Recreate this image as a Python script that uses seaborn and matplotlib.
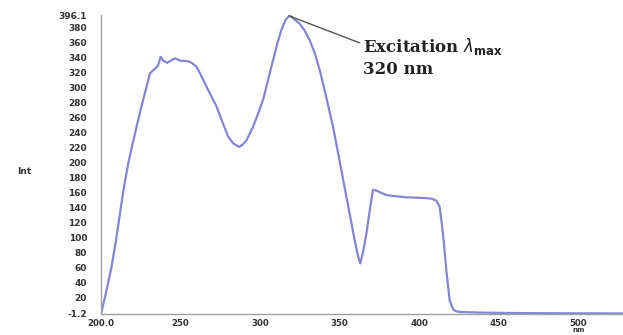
import pandas as pd
import matplotlib
matplotlib.use("Agg")
import matplotlib.pyplot as plt
import seaborn as sns

# excitation spectrum
wavelength = [200, 203, 206.7, 209.5, 212, 214.5, 217.2, 220, 222.4, 225, 227.6, 229.5,
              230.8, 232.8, 235, 236, 237.5, 239.1, 241.6, 244, 246.5, 249.6, 254.8,
              257, 260, 263, 266.4, 269.5, 272.6, 276, 279.9, 283, 286.8, 289, 291.5,
              295.6, 298.7, 301.9, 305, 308.2, 311, 313.4, 316, 318.2, 320, 322, 324.9,
              328, 331.2, 334.5, 337.5, 341.5, 345.8, 350, 354.2, 357, 359.4, 361.5,
              362.9, 364.8, 366.8, 369, 370.9, 373, 376, 379.3, 385, 391.9, 398, 404.4,
              408, 410.7, 412.8, 414.9, 417, 419.1, 421.2, 423, 425, 430, 440, 455, 470,
              490, 510, 528]
intensity = [-1.2, 25, 61.7, 97, 133, 168, 199.4, 226, 248, 271, 292.5, 308,
             319, 323, 327, 330, 341, 336, 333, 336, 339, 336, 335,
             333, 328, 316, 301, 288, 275, 256, 235, 226, 221, 224, 230,
             248, 265, 284, 310, 337, 360, 377, 390, 395.5, 394, 390, 385,
             376, 363, 345, 323, 288, 248, 202, 155, 124, 97, 76,
             66, 82, 106, 138, 164, 163, 160, 157, 155.5, 154, 153.5, 153,
             152, 149.6, 141.6, 106, 57, 17, 5, 2.5, 1.5, 1, 0.5, 0, -0.2,
             -0.4, -0.5, -0.6]

x_ticks = [200, 250, 300, 350, 400, 450, 500]
x_labels = ["200.0", "250", "300", "350", "400", "450", "500"]
y_ticks = [-1.2] + list(range(20, 400, 20)) + [396.1]
y_labels = ["-1.2"] + [str(v) for v in range(20, 400, 20)] + ["396.1"]

peak_x, peak_y = 318.2, 395.5

df = pd.DataFrame({"nm": wavelength, "Int": intensity})

sns.set_style("white")
plt.rcParams["font.family"] = ["DejaVu Sans"]

fig = plt.figure(figsize=(6.23, 3.35), dpi=100)
ax = fig.add_axes([0.162, 0.063, 0.838, 0.891])

sns.lineplot(data=df, x="nm", y="Int", ax=ax, color="#8585d6", linewidth=1.6,
             estimator=None, sort=False)

ax.set_xlim(200, 528)
ax.set_ylim(-1.2, 396.1)
ax.set_xticks(x_ticks)
ax.set_xticklabels(x_labels)
ax.set_yticks(y_ticks)
ax.set_yticklabels(y_labels)
ax.set_xlabel("")
ax.set_ylabel("")

for s in ["top", "right"]:
    ax.spines[s].set_visible(False)
for s in ["left", "bottom"]:
    ax.spines[s].set_color("#a0a0a0")
    ax.spines[s].set_linewidth(1.0)

ax.tick_params(axis="y", direction="out", length=6, width=0.8, color="#a0a0a0",
               pad=4, labelsize=6.5, labelcolor="#333333")
ax.tick_params(axis="x", direction="out", length=2.5, width=0.8, color="#a0a0a0",
               pad=1.5, labelsize=6.2, labelcolor="#333333")
for lab in ax.get_xticklabels() + ax.get_yticklabels():
    lab.set_fontweight("bold")

ax.text(-0.1475, 0.476, "Int", transform=ax.transAxes, ha="center", va="center",
        fontsize=6.5, fontweight="bold", color="#333333")
ax.text(500, -0.045, "nm", transform=ax.get_xaxis_transform(), ha="center",
        va="top", fontsize=5, fontweight="bold", color="#333333", clip_on=False)

# annotation for the maximum
ax.plot([peak_x, 362.6], [peak_y, 359.5], color="#555555", linewidth=1.0)
ax.text(364.5, 354.5, r"Excitation $\lambda_{\mathbf{max}}$", fontsize=12,
        fontweight="bold", family="DejaVu Serif", ha="left", va="center",
        color="#222222")
ax.text(364.5, 323.5, "320 nm", fontsize=12, fontweight="bold",
        family="DejaVu Serif", ha="left", va="center", color="#222222")

fig.savefig("out.png", dpi=100)
